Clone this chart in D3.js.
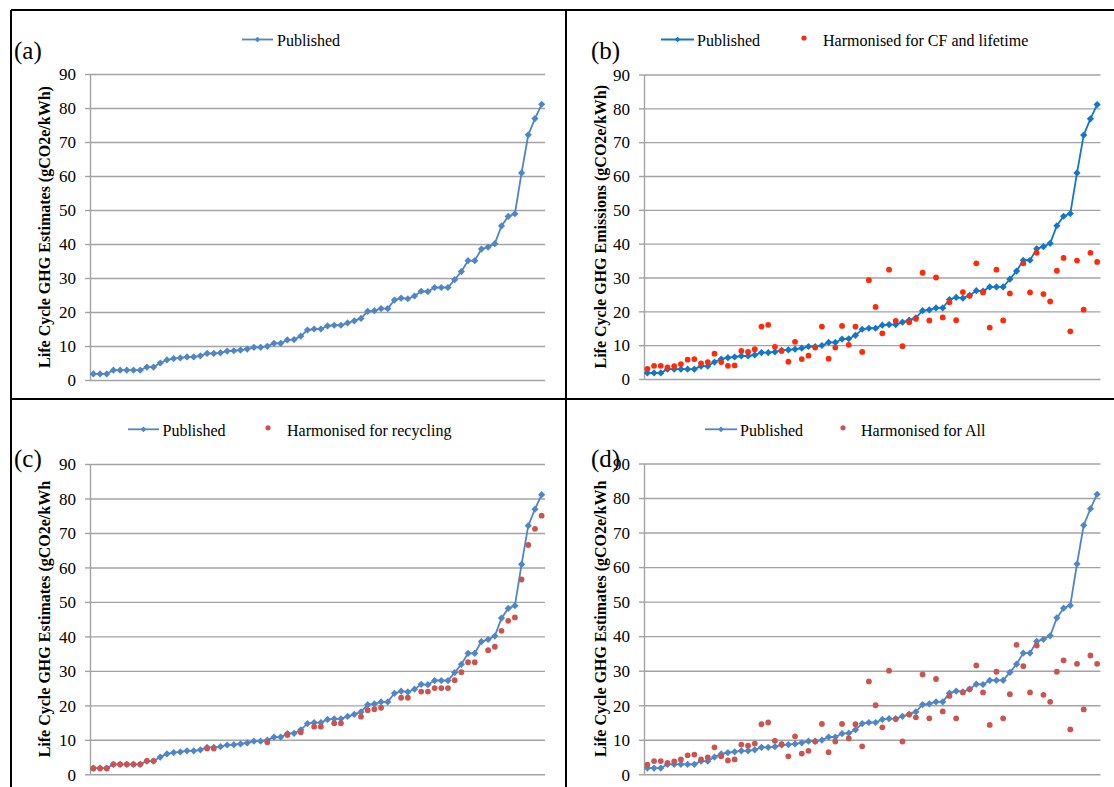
<!DOCTYPE html>
<html><head><meta charset="utf-8">
<script src="https://cdn.jsdelivr.net/npm/d3@7"></script>
<style>
body{margin:0;background:#fff}
svg{display:block}
text{font-family:"Liberation Serif","Times New Roman",serif;fill:#000}
</style>
</head><body>
<svg id="chart" width="1114" height="787"></svg>
<script>
// ---------------- DATA ----------------
const published = [1.8,1.8,1.8,2.9,2.9,2.9,2.9,2.9,3.8,3.8,
  5.0,5.9,6.3,6.5,6.8,6.8,7.1,7.8,7.8,8.0,
  8.5,8.6,8.8,9.1,9.6,9.6,9.9,10.8,10.8,11.8,
  11.9,12.9,14.7,15.0,15.0,15.9,16.1,16.1,16.8,17.4,
  18.1,20.2,20.4,21.0,21.0,23.5,24.1,23.9,24.7,26.1,
  26.0,27.2,27.2,27.2,29.5,31.9,35.1,35.1,38.5,39.1,
  40.1,45.3,48.1,48.9,60.9,72.1,76.9,81.1];

const harmonisedCFLifetime = [3.0,3.9,3.9,3.4,3.8,4.4,5.7,5.9,4.6,5.0,
  7.5,5.0,3.9,4.0,8.3,8.0,8.8,15.5,16.0,9.5,
  8.3,5.1,11.0,5.9,6.9,9.3,15.5,6.0,9.3,15.7,
  10.1,15.5,8.0,29.2,21.3,13.5,32.3,17.2,9.7,16.8,
  17.8,31.4,17.3,30.0,18.2,22.7,17.4,25.7,24.6,34.2,
  25.6,15.2,32.3,17.3,25.3,null,34.2,25.6,37.3,25.1,
  22.9,32.0,35.8,14.1,35.0,20.5,37.3,34.6];

const harmonisedRecycling = [1.7,1.7,1.7,2.9,2.9,2.9,2.9,2.9,3.9,3.9,
  null,null,null,null,null,null,null,7.5,7.5,null,
  null,null,null,null,null,null,9.3,null,null,11.4,
  null,12.2,null,13.8,13.8,null,14.8,14.8,null,null,
  16.7,18.6,18.9,19.3,null,null,22.2,22.2,null,24.0,
  24.0,25.0,25.0,25.0,27.3,29.6,32.5,32.5,null,36.0,
  37.0,41.6,44.5,45.5,56.5,66.5,71.2,75.0];

const harmonisedAll = [2.8,3.8,3.8,3.3,3.7,4.3,5.5,5.7,4.3,4.9,
  7.8,5.2,4.0,4.3,8.6,8.3,8.9,14.5,15.0,9.7,
  8.7,5.2,11.0,6.0,6.8,9.5,14.6,6.4,9.5,14.6,
  10.4,14.5,8.1,26.9,20.0,13.6,30.0,16.0,9.5,17.3,
  16.5,28.9,16.2,27.6,18.2,22.7,16.2,23.7,24.6,31.5,
  23.7,14.3,29.7,16.2,23.2,37.5,31.3,23.7,37.3,23.0,
  21.0,29.7,33.0,13.0,32.0,18.8,34.4,32.0];

const categories = published.map((d, i) => i + 1);   // study rank
const yTicks = [0,10,20,30,40,50,60,70,80,90];
const panelLabels = ["(a)","(b)","(c)","(d)"];
const seriesNames = ["Published","Harmonised for CF and lifetime","Harmonised for recycling","Harmonised for All"];
const yTitles = ["Life Cycle GHG Estimates (gCO2e/kWh)",
                 "Life Cycle GHG Emissions (gCO2e/kWh)",
                 "Life Cycle GHG Estimates (gCO2e/kWh",
                 "Life Cycle GHG Estimates (gCO2e/kWh"];

// ---------------- LAYOUT ----------------
const panels = [
  {label:panelLabels[0], title:yTitles[0], harm:null, harmName:null,
   x0:90, x1:545, yTop:74, yBot:380, labX:14, labY:59, titleX:50,
   legY:39.5, legTextY:45.5, legL0:242, legL1:273, legT1:277, legDot:null, legT2:null,
   blue:"#4f86c6", red:null},
  {label:panelLabels[1], title:yTitles[1], harm:harmonisedCFLifetime, harmName:seriesNames[1],
   x0:644, x1:1100.5, yTop:74.5, yBot:379, labX:591, labY:59, titleX:606,
   legY:39.5, legTextY:45.5, legL0:661, legL1:694, legT1:697, legDot:804, legT2:823,
   blue:"#1277c8", red:"#ff2a0a"},
  {label:panelLabels[2], title:yTitles[2], harm:harmonisedRecycling, harmName:seriesNames[2],
   x0:90, x1:545, yTop:464, yBot:774.3, labX:14, labY:467, titleX:50,
   legY:429.3, legTextY:435.5, legL0:128, legL1:159, legT1:162.5, legDot:268, legT2:287,
   blue:"#4f86c6", red:"#cc5450"},
  {label:panelLabels[3], title:yTitles[3], harm:harmonisedAll, harmName:seriesNames[3],
   x0:644, x1:1100.5, yTop:463.5, yBot:774.3, labX:591, labY:467, titleX:606,
   legY:429.3, legTextY:435.5, legL0:705, legL1:737, legT1:740, legDot:843, legT2:861,
   blue:"#4f86c6", red:"#cc5450"}
];

const svg = d3.select("#chart");
svg.append("rect").attr("width",1114).attr("height",787).attr("fill","#fff");

const diamond = d3.symbol().type(d3.symbolSquare).size(26);
const diamondSmall = d3.symbol().type(d3.symbolSquare).size(16);

panels.forEach(p => {
  const g = svg.append("g");
  const x = d3.scaleBand().domain(categories).range([p.x0, p.x1]);
  const cx = c => x(c) + x.bandwidth() / 2;
  const y = d3.scaleLinear().domain([0, 90]).range([p.yBot, p.yTop]);

  // gridlines
  const grid = g.append("g").attr("transform", `translate(${p.x0},0)`)
    .call(d3.axisLeft(y).tickValues(yTicks).tickSize(-(p.x1 - p.x0)).tickFormat(""));
  grid.select(".domain").remove();
  grid.selectAll("line").attr("stroke", "#a3a3a3").attr("stroke-width", 1.4);

  // left axis with ticks and labels
  const ax = g.append("g").attr("transform", `translate(${p.x0},0)`)
    .call(d3.axisLeft(y).tickValues(yTicks).tickSize(5).tickSizeOuter(0).tickPadding(9));
  ax.select(".domain").attr("stroke", "#a3a3a3").attr("stroke-width", 1.4);
  ax.selectAll(".tick line").attr("stroke", "#a3a3a3").attr("stroke-width", 1.4);
  ax.selectAll(".tick text").attr("font-family", "Liberation Serif")
    .attr("font-size", 17).attr("fill", "#000").attr("dy", "0.34em");

  // published line
  const line = d3.line().x((d, i) => cx(categories[i])).y(d => y(d));
  g.append("path").datum(published).attr("d", line)
    .attr("fill", "none").attr("stroke", p.blue).attr("stroke-width", 1.8);
  g.selectAll(".pm").data(published).join("path")
    .attr("d", diamond)
    .attr("transform", (d, i) => `translate(${cx(categories[i])},${y(d)}) rotate(45)`)
    .attr("fill", p.blue);

  // harmonised points
  if (p.harm) {
    g.selectAll(".hm").data(p.harm.map((v, i) => ({v, c: categories[i]})).filter(d => d.v != null))
      .join("circle")
      .attr("cx", d => cx(d.c)).attr("cy", d => y(d.v)).attr("r", 2.9)
      .attr("fill", p.red);
  }

  // y title
  g.append("text")
    .attr("transform", `translate(${p.titleX},${(p.yTop + p.yBot) / 2}) rotate(-90)`)
    .attr("text-anchor", "middle").attr("font-size", 16).attr("font-weight", "bold")
    .text(p.title);

  // panel label
  g.append("text").attr("x", p.labX).attr("y", p.labY)
    .attr("font-size", 25).text(p.label);

  // legend
  g.append("line").attr("x1", p.legL0).attr("x2", p.legL1)
    .attr("y1", p.legY).attr("y2", p.legY)
    .attr("stroke", p.blue).attr("stroke-width", 1.8);
  g.append("path").attr("d", diamondSmall)
    .attr("transform", `translate(${(p.legL0 + p.legL1) / 2},${p.legY}) rotate(45)`)
    .attr("fill", p.blue);
  g.append("text").attr("x", p.legT1).attr("y", p.legTextY)
    .attr("font-size", 16).text(seriesNames[0]);
  if (p.harm) {
    g.append("circle").attr("cx", p.legDot).attr("cy", p.legY - 1.5).attr("r", 2.6).attr("fill", p.red);
    g.append("text").attr("x", p.legT2).attr("y", p.legTextY)
      .attr("font-size", 16).text(p.harmName);
  }
});

// frame lines
const frame = [[11,10,1114,10],[11,10,11,787],[566,10,566,787],[11,399,1114,399]];
svg.selectAll(".frame").data(frame).join("line")
  .attr("x1", d => d[0]).attr("y1", d => d[1]).attr("x2", d => d[2]).attr("y2", d => d[3])
  .attr("stroke", "#000").attr("stroke-width", 2);
</script>
</body></html>
